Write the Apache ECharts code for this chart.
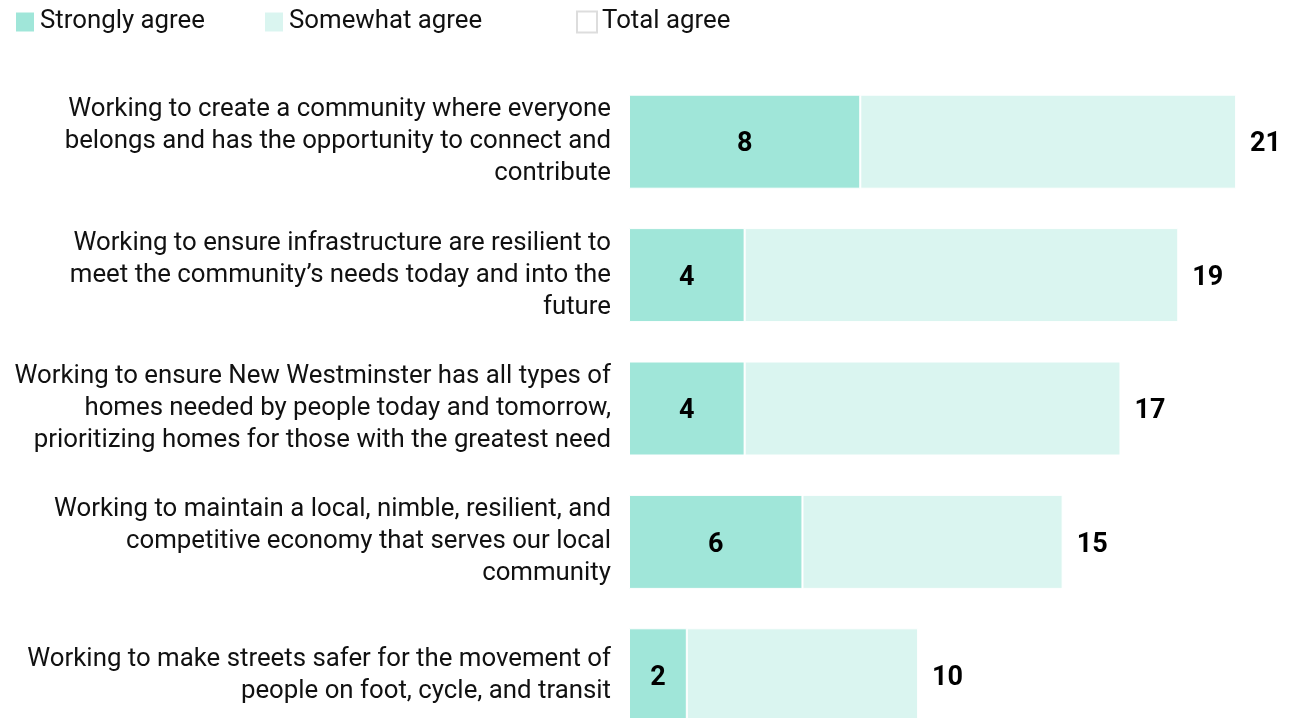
<!DOCTYPE html>
<html>
<head>
<meta charset="utf-8">
<script src="https://cdn.jsdelivr.net/npm/echarts@6/dist/echarts.min.js"></script>
<style>html,body{margin:0;padding:0;background:#fff;}#c{width:1289px;height:718px;}</style>
</head>
<body>
<div id="c"></div>
<script>
const categories = [
  "Working to create a community where everyone\nbelongs and has the opportunity to connect and\ncontribute",
  "Working to ensure infrastructure are resilient to\nmeet the community\u2019s needs today and into the\nfuture",
  "Working to ensure New Westminster has all types of\nhomes needed by people today and tomorrow,\nprioritizing homes for those with the greatest need",
  "Working to maintain a local, nimble, resilient, and\ncompetitive economy that serves our local\ncommunity",
  "Working to make streets safer for the movement of\npeople on foot, cycle, and transit"
];
const stronglyAgree = [8, 4, 4, 6, 2];
const somewhatAgree = [13, 15, 13, 9, 8];
const totalAgree = [21, 19, 17, 15, 10];

const FONT = 'Roboto';
const chart = echarts.init(document.getElementById('c'));
const legendText = {fontFamily: FONT, fontSize: 25.8, color: '#111'};
const legendBase = {top: 9, padding: 0, itemWidth: 20, itemHeight: 21, itemGap: 0, icon: 'rect', textStyle: legendText};
chart.setOption({
  animation: false,
  textStyle: {fontFamily: FONT},
  legend: [
    Object.assign({left: 14, data: ['Strongly agree']}, legendBase),
    Object.assign({left: 263, data: ['Somewhat agree']}, legendBase),
    Object.assign({left: 576, data: [{name: 'Total agree', itemStyle: {color: '#fff', borderColor: '#ddd', borderWidth: 2}}]}, legendBase)
  ],
  grid: {left: 629, top: 75, width: 636, height: 667, outerBoundsMode: 'none', containLabel: false},
  xAxis: {type: 'value', min: 0, max: 22, show: false},
  yAxis: {
    type: 'category', inverse: true, data: categories,
    axisLine: {show: false}, axisTick: {show: false},
    axisLabel: {fontFamily: FONT, fontSize: 25.8, color: '#111', lineHeight: 32, margin: 18, align: 'right', verticalAlign: 'middle'}
  },
  series: [
    {
      name: 'Strongly agree', type: 'bar', stack: 'a', data: stronglyAgree, barWidth: 94,
      itemStyle: {color: '#A0E6D9', borderColor: '#fff', borderWidth: 1},
      label: {show: true, position: 'inside', offset: [0, 3], fontFamily: FONT, fontSize: 27, fontWeight: 'bold', color: '#000'}
    },
    {
      name: 'Somewhat agree', type: 'bar', stack: 'a', data: somewhatAgree, barWidth: 94,
      itemStyle: {color: '#DAF5F0', borderColor: '#fff', borderWidth: 1}
    },
    {
      name: 'Total agree', type: 'bar', data: totalAgree, barWidth: 94, barGap: '-100%',
      itemStyle: {color: 'rgba(0,0,0,0)'}, z: 1,
      label: {show: true, position: 'right', offset: [0, 3], distance: 14, fontFamily: FONT, fontSize: 27, fontWeight: 'bold', color: '#000'}
    }
  ]
});
</script>
</body>
</html>
